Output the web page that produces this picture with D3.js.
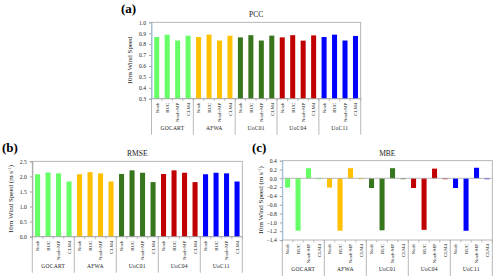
<!DOCTYPE html>
<html><head><meta charset="utf-8">
<script src="https://cdn.jsdelivr.net/npm/d3@7"></script>
<style>
html,body{margin:0;padding:0;background:#fff;}
svg{display:block;font-family:"Liberation Serif","Times New Roman",serif;}
</style></head>
<body><svg id="c" width="500" height="279"></svg>
<script>
const groups = ["GOCART","AFWA","UoC01","UoC04","UoC11"];
const schemes = ["Noah","RUC","Noah-MP","CLM4"];
const groupColors = ["#66FF66","#FFC000","#38761D","#C00000","#0000FF"];
const pccValues = [
  [0.865,0.886,0.833,0.877],
  [0.865,0.887,0.833,0.877],
  [0.862,0.882,0.833,0.878],
  [0.862,0.882,0.832,0.880],
  [0.865,0.887,0.833,0.875]];
const rmseValues = [
  [2.07,2.13,2.10,1.83],
  [2.07,2.14,2.10,1.83],
  [2.08,2.20,2.12,1.81],
  [2.08,2.20,2.12,1.81],
  [2.07,2.12,2.10,1.83]];
const mbeValues = [
  [-0.21,-1.19,0.23,-0.02],
  [-0.21,-1.19,0.23,-0.02],
  [-0.22,-1.18,0.23,-0.02],
  [-0.22,-1.17,0.22,-0.02],
  [-0.22,-1.19,0.24,-0.02]];
const pccTicks = [0.3,0.4,0.5,0.6,0.7,0.8,0.9,1.0];
const rmseTicks = [0.0,0.5,1.0,1.5,2.0,2.5];
const mbeTicks = [-1.4,-1.2,-1.0,-0.8,-0.6,-0.4,-0.2,0.0,0.2,0.4];

const svg = d3.select("#c");

function panel(cfg){
  const {left,right,top,bottom,domain,ticks,values,title,letter,letterX,letterY,ylabel,ylabelX,base,axisColor} = cfg;
  const g = svg.append("g");
  const y = d3.scaleLinear().domain(domain).range([bottom,top]);
  const cats = [];
  groups.forEach((gr,gi)=>schemes.forEach((s,si)=>cats.push({gr,gi,s,si,v:values[gi][si]})));
  const x = d3.scaleBand().domain(cats.map((d,i)=>i)).range([left,right]).paddingInner(0.52).paddingOuter(0.26);
  const xg = d3.scaleBand().domain(groups).range([left,right]);

  g.append("rect").attr("x",left).attr("y",top).attr("width",right-left).attr("height",bottom-top)
    .attr("fill","none").attr("stroke","#a6a6a6").attr("stroke-width",0.8);

  g.selectAll("rect.bar").data(cats).enter().append("rect")
    .attr("x",(d,i)=>x(i)).attr("width",x.bandwidth())
    .attr("y",d=>y(Math.max(d.v,base))).attr("height",d=>Math.abs(y(d.v)-y(base)))
    .attr("fill",d=>groupColors[d.gi]);

  g.append("line").attr("x1",left).attr("x2",right).attr("y1",y(base)).attr("y2",y(base))
    .attr("stroke","#a6a6a6").attr("stroke-width",0.8);

  const ya = d3.axisLeft(y).tickValues(ticks).tickFormat(d3.format(".1f")).tickSize(2.5).tickPadding(3);
  const yAx = g.append("g").attr("transform",`translate(${left},0)`).call(ya);
  yAx.select(".domain").attr("stroke",axisColor).attr("stroke-width",1);
  yAx.selectAll(".tick line").attr("stroke","#a6a6a6");
  yAx.selectAll("text").attr("font-size",5.6).attr("font-family","Liberation Serif").attr("fill","#222");

  const catY = bottom;
  g.selectAll("text.cat").data(cats).enter().append("text")
    .attr("transform",(d,i)=>`translate(${x(i)+x.bandwidth()/2+1.8},${catY+4}) rotate(-90)`)
    .attr("text-anchor","end").attr("font-size",4.9).attr("fill","#222").text(d=>d.s);
  g.selectAll("line.ct").data(d3.range(21)).enter().append("line")
    .attr("x1",i=>left+(right-left)*i/20).attr("x2",i=>left+(right-left)*i/20)
    .attr("y1",catY).attr("y2",catY+2.5).attr("stroke","#a6a6a6").attr("stroke-width",0.7);
  g.selectAll("line.gs").data(d3.range(6)).enter().append("line")
    .attr("x1",i=>left+(right-left)*i/5).attr("x2",i=>left+(right-left)*i/5)
    .attr("y1",catY).attr("y2",catY+36).attr("stroke","#a6a6a6").attr("stroke-width",0.8);
  g.selectAll("text.grp").data(groups).enter().append("text")
    .attr("x",d=>xg(d)+xg.bandwidth()/2).attr("y",catY+31)
    .attr("text-anchor","middle").attr("font-size",5.6).attr("letter-spacing",0.2).attr("fill","#222").text(d=>d);

  g.append("text").attr("x",(left+right)/2).attr("y",top-5).attr("text-anchor","middle")
    .attr("font-size",7.5).attr("fill","#222").text(title);
  g.append("text").attr("x",letterX).attr("y",letterY).attr("font-size",13).attr("font-weight","bold")
    .attr("fill","#000").text(letter);
  const yl = g.append("text").attr("transform",`translate(${ylabelX},${(top+bottom)/2}) rotate(-90)`)
    .attr("text-anchor","middle").attr("font-size",7).attr("fill","#222");
  yl.append("tspan").text(ylabel);
  if(cfg.unit){
    yl.append("tspan").text(" (m s");
    yl.append("tspan").attr("font-size",4.5).attr("dy",-2.5).text("-1");
    yl.append("tspan").attr("dy",2.5).text(")");
  }
}

panel({left:151.5,right:360.7,top:22.3,bottom:98.7,domain:[0.3,1.0],ticks:pccTicks,values:pccValues,
  title:"PCC",letter:"(a)",letterX:121,letterY:13,ylabel:"10m Wind Speed",ylabelX:132,base:0.3,axisColor:"#9dc3e6"});
panel({left:32.3,right:242.3,top:161.3,bottom:236.7,domain:[0,2.5],ticks:rmseTicks,values:rmseValues,
  title:"RMSE",letter:"(b)",letterX:2,letterY:152,ylabel:"10m Wind Speed",unit:true,ylabelX:13,base:0,axisColor:"#a6a6a6"});
panel({left:282.3,right:492.3,top:160.7,bottom:240,domain:[-1.4,0.4],ticks:mbeTicks,values:mbeValues,
  title:"MBE",letter:"(c)",letterX:252,letterY:152,ylabel:"10m Wind Speed",unit:true,ylabelX:263,base:0,axisColor:"#9dc3e6"});
</script></body></html>
